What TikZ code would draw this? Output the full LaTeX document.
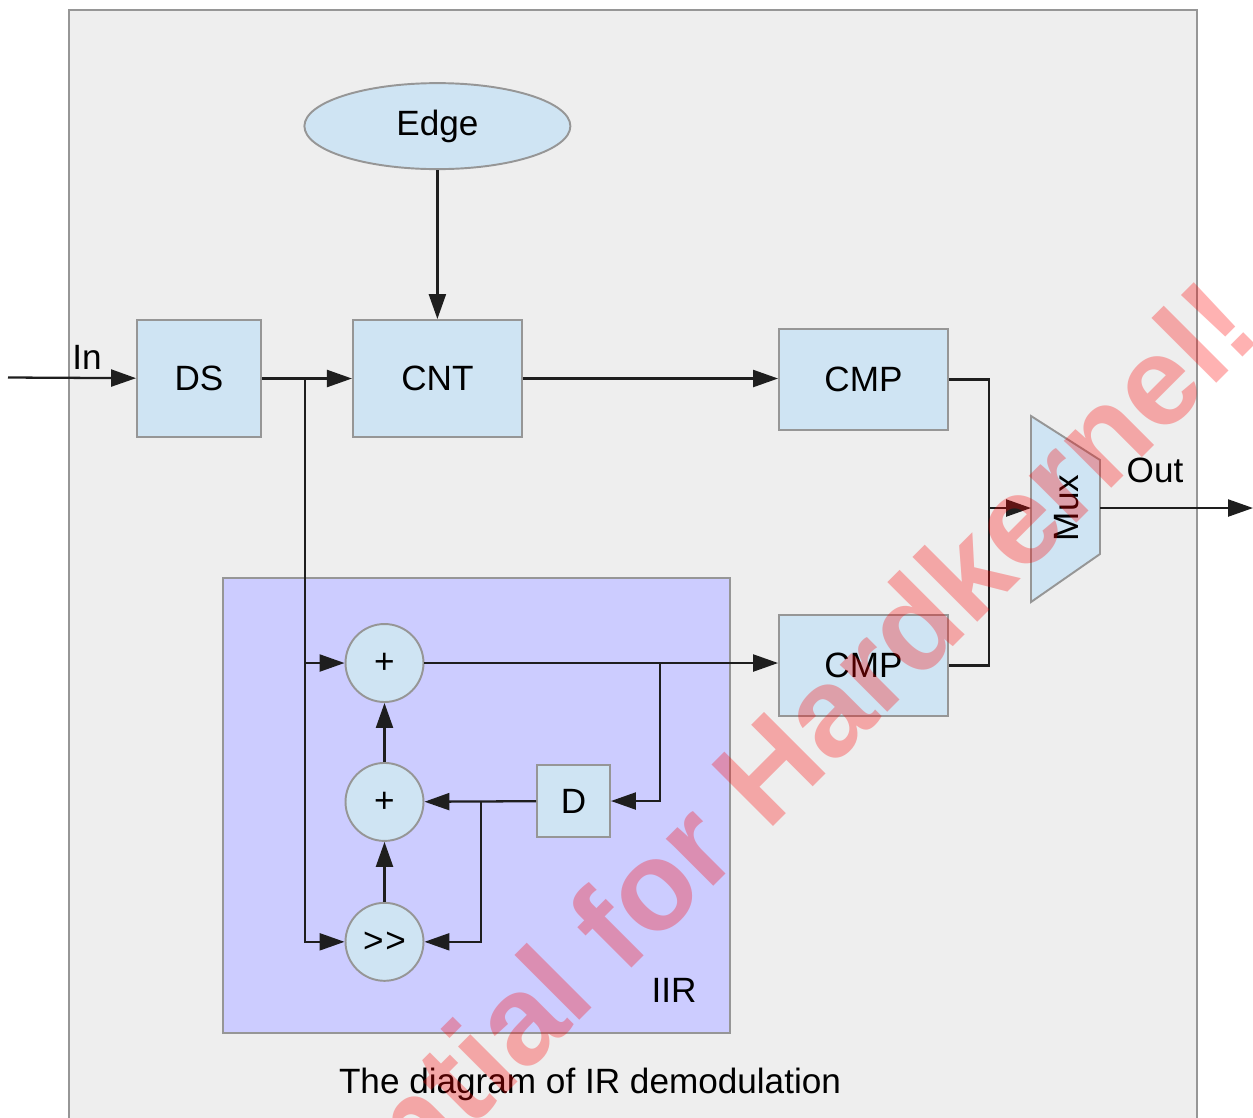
\documentclass[tikz,border=0pt]{standalone}
\usepackage{fontspec}
\setmainfont{Liberation Sans}
\usepackage{tikz}
\usetikzlibrary{
  shapes.geometric,
  arrows.meta,
  positioning, calc
}
\definecolor{panelgray}{RGB}{238,238,238}
\definecolor{framegray}{RGB}{150,150,150}
\definecolor{boxblue}{RGB}{207,228,243}
\definecolor{iirviolet}{RGB}{204,204,255}
\definecolor{wirecol}{RGB}{30,30,30}
\definecolor{markred}{RGB}{255,0,0}
\newcommand{\diafont}{\fontsize{20}{24}\selectfont}
\newcommand{\markfont}{\fontsize{72}{80}\selectfont\bfseries}
\tikzset{
  basebox/.style={rectangle,draw=framegray,line width=1.1pt,fill=boxblue,align=center,font=\diafont},
  blknode/.style={basebox,minimum width=3.38cm,minimum height=2.34cm},
  cmpnode/.style={basebox,minimum width=3.38cm,minimum height=2.02cm},
  sumnode/.style={basebox,circle,minimum size=1.56cm,inner sep=0pt},
  lbl/.style={font=\diafont},
  arr/.style={-{Triangle[length=0.5cm,width=0.34cm]},line width=1.3pt,color=wirecol},
  wire/.style={line width=1.3pt,color=wirecol}
}

\begin{document}
\begin{tikzpicture}[x=0.02cm,y=-0.02cm,node distance=1.8cm]
  \useasboundingbox (0,0) rectangle (1253,1117);
  \draw[draw=framegray,line width=1.1pt,fill=panelgray] (69,10) rectangle (1197,1125);

  %% IIR block
  \node[rectangle,draw=framegray,line width=1.1pt,fill=iirviolet,
        minimum width=10.14cm,minimum height=9.1cm] (iir) at (476.5,805.5) {};
  \node[lbl] (iirlbl) at (674,990) {IIR};

  %% Main chain
  \node[blknode,minimum width=2.48cm] (ds) at (199,378.5) {DS};
  \node[blknode,right=1.8cm of ds] (cnt) {CNT};
  \node[basebox,ellipse,minimum width=5.32cm,minimum height=1.72cm,above=2.98cm of cnt] (edge) {Edge};
  \node[cmpnode] (cmp1) at (863.5,379.5) {CMP};
  \node[cmpnode,below=3.66cm of cmp1] (cmp2) {CMP};

  %% Filter
  \node[sumnode] (add1) at (384.5,663) {+};
  \node[sumnode,below=1.18cm of add1] (add2) {+};
  \node[sumnode,below=1.2cm of add2] (shr) {>\kern1pt>};
  \node[basebox,minimum width=1.46cm,minimum height=1.44cm] (dly) at (573.5,801) {D};

  %% Mux
  \draw[draw=framegray,line width=1.1pt,fill=boxblue]
    (1031,416) -- (1100,460) -- (1100,554) -- (1031,602) -- cycle;
  \node[lbl,rotate=90] (mux) at (1067,508) {Mux};
  \coordinate (muxin) at (1031,508);
  \coordinate (muxout) at (1100,508);

  \node[lbl] (inlbl) at (87,357) {In};
  \node[lbl] (outlbl) at (1155,470) {Out};
  \node[lbl] (caption) at (590,1084) {The diagram of IR demodulation};

  %% Connectors
  \coordinate (inp) at (8,377.5);
  \coordinate (tapin) at (305,378.5);
  \coordinate (tapfb) at (660,663);
  \coordinate (tapdly) at (481,801);
  \coordinate (join) at (989,508);
  \coordinate (outp) at (1253,508);

  \draw[arr] (inp) -- (ds);
  \draw[arr] (ds) -- (cnt);
  \draw[arr] (edge) -- (cnt);
  \draw[arr] (cnt.east) -- (cnt.east -| cmp1.west);
  \draw[arr] (tapin) |- (add1);
  \draw[arr] (tapin) |- (shr);
  \draw[arr] (add1) -- (add1 -| cmp2.west);
  \draw[arr] (tapfb) |- (dly);
  \draw[arr] (dly) -- (add2);
  \draw[arr] (tapdly) |- (shr);
  \draw[arr] (shr) -- (add2);
  \draw[arr] (add2) -- (add1);
  \draw[wire] (cmp1.east) -| (join);
  \draw[wire] (cmp2.east) -| (join);
  \draw[arr] (join) -- (muxin);
  \draw[arr] (muxout) -- (outp);

  %% Watermark
  \begin{scope}
    \clip (0,0) rectangle (1253,1117);
    \node[rotate=45,anchor=base east,inner sep=0pt,text=markred,opacity=0.3,font=\markfont]
      (mark) at (1265,335) {Confidential for Hardkernel!};
  \end{scope}
\end{tikzpicture}
\end{document}
